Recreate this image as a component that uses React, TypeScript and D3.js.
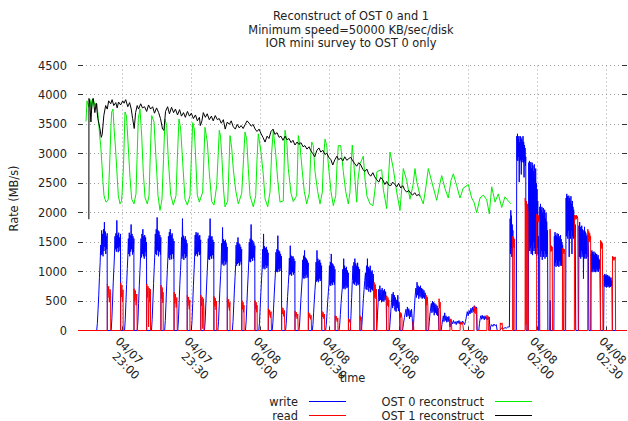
import React from "react";
import * as d3 from "d3";

type Pt = [number, number];

// Time is stored as minutes after 04/07 22:00.
const BASE = new Date(2008, 3, 7, 22, 0, 0);
const at = (m: number) => new Date(BASE.getTime() + m * 60000);

const titleLines = [
  "Reconstruct of OST 0 and 1",
  "Minimum speed=50000 KB/sec/disk",
  "IOR mini survey to OST 0 only",
];
const yTicks = [0, 500, 1000, 1500, 2000, 2500, 3000, 3500, 4000, 4500];
const timeWindow: Pt = [40.59, 278.95];
const yLabel = "Rate (MB/s)";
const xLabel = "time";

const write: Pt[] = [
  [40.6, 0], [48.7, 0], [49.0, 120], [49.3, 350], [49.6, 600], [49.9, 900], [50.2, 1150], [50.45, 1450], [50.65, 1280], [50.85, 1700], [51.05, 1300], [51.25, 1640], [51.45, 1260], [51.65, 1720], [51.85, 1350], [52.05, 1840], [52.25, 1420], [52.45, 1680], [52.65, 1300], [52.85, 1600], [53.05, 1380], [53.25, 1650], [53.3, 0],
  [55.0, 0], [55.3, 200], [55.6, 500], [55.9, 820], [56.2, 1080], [56.45, 1300], [56.65, 1600], [56.85, 1380], [57.05, 1650], [57.25, 1340], [57.45, 1870], [57.65, 1400], [57.85, 1620], [58.05, 1330], [58.25, 1660], [58.45, 1420], [58.65, 1580], [58.85, 1350], [59.05, 1640], [59.1, 0],
  [60.8, 0], [61.1, 180], [61.4, 480], [61.7, 780], [62.0, 1050], [62.25, 1280], [62.45, 1560], [62.65, 1300], [62.85, 1660], [63.05, 1260], [63.25, 1620], [63.45, 1340], [63.65, 1800], [63.85, 1380], [64.05, 1640], [64.25, 1290], [64.45, 1600], [64.65, 1330], [64.85, 1560], [64.9, 0],
  [66.3, 0], [66.6, 160], [66.9, 460], [67.2, 760], [67.5, 1020], [67.75, 1250], [67.95, 1560], [68.15, 1240], [68.35, 1640], [68.55, 1300], [68.75, 1720], [68.95, 1260], [69.15, 1600], [69.35, 1220], [69.55, 1620], [69.75, 1330], [69.95, 1580], [70.15, 1260], [70.35, 1500], [70.4, 0],
  [72.5, 0], [72.8, 190], [73.1, 500], [73.4, 800], [73.7, 1080], [73.95, 1300], [74.15, 1640], [74.35, 1300], [74.55, 1720], [74.75, 1280], [74.95, 1920], [75.15, 1360], [75.35, 1700], [75.55, 1260], [75.75, 1680], [75.95, 1340], [76.15, 1620], [76.35, 1290], [76.55, 1580], [76.6, 0],
  [78.2, 0], [78.5, 170], [78.8, 470], [79.1, 770], [79.4, 1040], [79.65, 1260], [79.85, 1600], [80.05, 1230], [80.25, 1670], [80.45, 1200], [80.65, 1720], [80.85, 1280], [81.05, 1620], [81.25, 1210], [81.45, 1650], [81.65, 1300], [81.85, 1560], [82.05, 1220], [82.25, 1520], [82.3, 0],
  [83.9, 0], [84.2, 180], [84.5, 480], [84.8, 780], [85.1, 1020], [85.35, 1250], [85.55, 1580], [85.75, 1220], [85.95, 1900], [86.15, 1260], [86.35, 1610], [86.55, 1200], [86.75, 1560], [86.95, 1300], [87.15, 1600], [87.35, 1230], [87.55, 1540], [87.75, 1260], [87.95, 1480], [88.0, 0],
  [89.8, 0], [90.1, 170], [90.4, 460], [90.7, 760], [91.0, 1030], [91.25, 1280], [91.45, 1620], [91.65, 1270], [91.85, 1670], [92.05, 1300], [92.25, 1640], [92.45, 1260], [92.65, 1660], [92.85, 1340], [93.05, 1600], [93.25, 1280], [93.45, 1620], [93.65, 1300], [93.85, 1540], [93.9, 0],
  [95.5, 0], [95.8, 160], [96.1, 450], [96.4, 740], [96.7, 1000], [96.95, 1230], [97.15, 1560], [97.35, 1210], [97.55, 1610], [97.75, 1200], [97.95, 1900], [98.15, 1260], [98.35, 1590], [98.55, 1220], [98.75, 1600], [98.95, 1280], [99.15, 1540], [99.35, 1220], [99.55, 1500], [99.6, 0],
  [101.3, 0], [101.6, 150], [101.9, 420], [102.2, 700], [102.5, 930], [102.75, 1130], [102.95, 1480], [103.15, 1120], [103.35, 1750], [103.55, 1150], [103.75, 1550], [103.95, 1100], [104.15, 1520], [104.35, 1180], [104.55, 1540], [104.75, 1120], [104.95, 1480], [105.15, 1160], [105.35, 1420], [105.4, 0],
  [107.6, 0], [107.9, 150], [108.2, 420], [108.5, 690], [108.8, 920], [109.05, 1120], [109.25, 1450], [109.45, 1100], [109.65, 1500], [109.85, 1130], [110.05, 1580], [110.25, 1150], [110.45, 1480], [110.65, 1100], [110.85, 1460], [111.05, 1170], [111.25, 1420], [111.45, 1120], [111.65, 1380], [111.7, 0],
  [113.3, 0], [113.6, 160], [113.9, 440], [114.2, 720], [114.5, 960], [114.75, 1180], [114.95, 1500], [115.15, 1170], [115.35, 1560], [115.55, 1160], [115.75, 1800], [115.95, 1220], [116.15, 1540], [116.35, 1180], [116.55, 1520], [116.75, 1240], [116.95, 1480], [117.15, 1190], [117.35, 1440], [117.4, 0],
  [119.1, 0], [119.4, 140], [119.7, 400], [120.0, 650], [120.3, 880], [120.55, 1060], [120.75, 1380], [120.95, 1050], [121.15, 1640], [121.35, 1080], [121.55, 1430], [121.75, 1040], [121.95, 1400], [122.15, 1110], [122.35, 1420], [122.55, 1060], [122.75, 1370], [122.95, 1100], [123.15, 1320], [123.2, 0],
  [124.9, 0], [125.2, 130], [125.5, 380], [125.8, 620], [126.1, 840], [126.35, 1010], [126.55, 1330], [126.75, 1000], [126.95, 1380], [127.15, 990], [127.35, 1610], [127.55, 1040], [127.75, 1360], [127.95, 1000], [128.15, 1340], [128.35, 1060], [128.55, 1300], [128.75, 1010], [128.95, 1260], [129.0, 0],
  [130.7, 0], [131.0, 120], [131.3, 350], [131.6, 580], [131.9, 780], [132.15, 950], [132.35, 1230], [132.55, 940], [132.75, 1440], [132.95, 960], [133.15, 1270], [133.35, 930], [133.55, 1250], [133.75, 990], [133.95, 1260], [134.15, 950], [134.35, 1220], [134.55, 980], [134.75, 1180], [134.8, 0],
  [136.5, 0], [136.8, 110], [137.1, 330], [137.4, 550], [137.7, 740], [137.95, 900], [138.15, 1200], [138.35, 890], [138.55, 1270], [138.75, 880], [138.95, 1360], [139.15, 930], [139.35, 1240], [139.55, 890], [139.75, 1220], [139.95, 950], [140.15, 1190], [140.35, 900], [140.55, 1150], [140.6, 0],
  [142.3, 0], [142.6, 100], [142.9, 310], [143.2, 520], [143.5, 700], [143.75, 840], [143.95, 1160], [144.15, 830], [144.35, 1360], [144.55, 850], [144.75, 1220], [144.95, 820], [145.15, 1180], [145.35, 880], [145.55, 1200], [145.75, 840], [145.95, 1150], [146.15, 870], [146.35, 1100], [146.4, 0],
  [148.1, 0], [148.4, 100], [148.7, 290], [149.0, 490], [149.3, 660], [149.55, 780], [149.75, 1100], [149.95, 770], [150.15, 1160], [150.35, 760], [150.55, 1300], [150.75, 800], [150.95, 1140], [151.15, 770], [151.35, 1120], [151.55, 820], [151.75, 1090], [151.95, 780], [152.15, 1040], [152.2, 0],
  [153.9, 0], [154.2, 90], [154.5, 270], [154.8, 460], [155.1, 620], [155.35, 720], [155.55, 1040], [155.75, 710], [155.95, 1220], [156.15, 730], [156.35, 1100], [156.55, 700], [156.75, 1060], [156.95, 760], [157.15, 1080], [157.35, 720], [157.55, 1020], [157.75, 740], [157.95, 980], [158.0, 0],
  [158.8, 0], [159.1, 250], [159.4, 560], [159.7, 850], [160.0, 1100], [160.2, 800], [160.4, 1160], [160.6, 780], [160.8, 1220], [161.0, 820], [161.2, 1140], [161.4, 760], [161.6, 1100], [161.8, 800], [162.0, 1150], [162.2, 770], [162.4, 1080], [162.6, 790], [162.85, 1040], [163.0, 0],
  [163.6, 0], [163.9, 130], [164.2, 330], [164.5, 540], [164.8, 700], [165.1, 850], [165.4, 980], [165.65, 700], [165.85, 1100], [166.05, 690], [166.25, 1220], [166.45, 740], [166.65, 1080], [166.85, 660], [167.05, 1050], [167.25, 720], [167.45, 1100], [167.65, 650], [167.85, 1000], [168.05, 700], [168.3, 1020], [168.5, 680], [168.75, 960], [169.0, 720], [169.1, 0],
  [170.3, 0], [170.6, 250], [170.9, 480], [171.15, 700], [171.4, 500], [171.65, 760], [171.9, 520], [172.15, 690], [172.4, 480], [172.65, 720], [172.9, 500], [173.15, 680], [173.4, 490], [173.65, 700], [173.9, 520], [174.15, 660], [174.4, 500], [174.6, 0],
  [175.8, 0], [176.1, 150], [176.4, 330], [176.7, 480], [176.95, 620], [177.2, 380], [177.45, 650], [177.7, 420], [177.95, 600], [178.2, 340], [178.45, 560], [178.7, 320], [178.95, 520], [179.2, 380], [179.45, 600], [179.7, 330], [179.95, 480], [180.2, 310], [180.4, 0],
  [181.5, 0], [181.9, 120], [182.3, 220], [182.7, 300], [183.0, 360], [183.3, 230], [183.6, 400], [183.9, 250], [184.2, 370], [184.5, 200], [184.8, 340], [185.1, 230], [185.4, 360], [185.7, 210], [186.0, 0],
  [186.1, 0], [186.4, 200], [186.7, 420], [187.0, 600], [187.3, 720], [187.55, 560], [187.8, 820], [188.05, 600], [188.3, 760], [188.55, 540], [188.8, 740], [189.05, 580], [189.3, 760], [189.55, 560], [189.8, 720], [190.05, 540], [190.3, 700], [190.55, 560], [190.8, 680], [191.05, 540], [191.3, 640], [191.55, 560], [191.7, 0],
  [192.8, 0], [193.1, 150], [193.4, 280], [193.7, 380], [194.0, 460], [194.25, 300], [194.5, 500], [194.75, 320], [195.0, 480], [195.25, 260], [195.5, 460], [195.75, 300], [196.0, 440], [196.25, 270], [196.5, 420], [196.75, 250], [197.0, 380], [197.3, 0],
  [198.3, 0], [198.6, 100], [198.9, 180], [199.2, 250], [199.5, 150], [199.8, 300], [200.1, 170], [200.4, 250], [200.7, 140], [201.0, 230], [201.3, 150], [201.6, 240], [201.9, 160], [202.1, 60],
  [202.4, 120], [202.8, 160], [203.2, 110], [203.6, 170], [204.0, 120], [204.4, 150], [204.8, 100], [205.2, 160], [205.6, 120], [206.0, 170], [206.4, 110], [206.8, 150], [207.2, 120], [207.6, 160], [208.0, 130], [208.4, 100],
  [208.8, 150], [209.2, 230], [209.6, 320], [210.0, 250], [210.4, 340], [210.8, 280], [211.2, 380], [211.6, 300], [212.0, 400], [212.4, 320], [212.8, 420], [213.2, 350], [213.6, 400], [213.8, 0],
  [214.6, 0], [214.9, 120], [215.2, 200], [215.5, 250], [215.8, 190], [216.1, 260], [216.4, 200], [216.7, 240], [217.0, 180], [217.3, 250], [217.6, 200], [217.9, 230], [218.2, 180], [218.5, 220], [218.8, 190], [219.1, 230], [219.5, 0],
  [219.7, 60], [220.2, 100], [220.7, 70], [221.2, 110], [221.7, 80], [222.2, 100], [222.6, 0], [223.8, 0], [224.2, 30], [224.8, 50], [225.4, 30], [226.0, 50], [226.6, 40], [227.2, 60],
  [227.9, 60], [228.2, 1900], [228.35, 1300], [228.5, 2040], [228.65, 1400], [228.8, 1950], [228.95, 1250], [229.1, 1800], [229.25, 1300], [229.4, 1700], [229.55, 0],
  [230.9, 0], [231.1, 3300], [231.25, 2900], [231.4, 3340], [231.55, 2880], [231.7, 3250], [231.85, 2950], [232.0, 3300], [232.15, 2520], [232.3, 3200], [232.45, 2870], [232.6, 3300], [232.75, 2900], [232.9, 3280], [233.05, 2650], [233.2, 3250], [233.35, 2860], [233.5, 3220], [233.65, 2900], [233.8, 3300], [233.95, 2850], [234.1, 3200], [234.25, 2600], [234.4, 3150], [234.55, 2870], [234.7, 3100], [234.85, 2800], [235.0, 2950], [235.1, 0],
  [236.1, 0], [236.3, 2850], [236.45, 1500], [236.6, 2880], [236.75, 1350], [236.9, 2800], [237.05, 1400], [237.2, 2860], [237.35, 1300], [237.5, 2750], [237.65, 1450], [237.8, 2850], [237.95, 1280], [238.1, 2800], [238.25, 1500], [238.4, 2700], [238.55, 1350], [238.7, 2820], [238.85, 1400], [239.0, 2600], [239.15, 1300], [239.3, 2750], [239.45, 1500], [239.6, 2500], [239.75, 1270], [239.9, 2400], [240.05, 1400], [240.2, 2200], [240.35, 1300], [240.55, 1600], [240.6, 0],
  [240.9, 0], [241.1, 2100], [241.25, 1300], [241.4, 2150], [241.55, 1250], [241.7, 2050], [241.85, 1350], [242.0, 2100], [242.15, 1200], [242.3, 2000], [242.45, 1300], [242.6, 2080], [242.75, 1250], [242.9, 1950], [243.05, 1350], [243.2, 2050], [243.35, 1220], [243.5, 1900], [243.65, 1300], [243.8, 2000], [243.95, 1250], [244.1, 1850], [244.25, 1300], [244.45, 1700], [244.6, 0],
  [245.4, 0], [245.6, 510], [245.75, 0],
  [247.2, 0], [247.4, 1600], [247.55, 1100], [247.7, 1670], [247.85, 1150], [248.0, 1620], [248.15, 1080], [248.3, 1600], [248.45, 1200], [248.6, 1650], [248.75, 1100], [248.9, 1580], [249.05, 1150], [249.2, 1640], [249.35, 1080], [249.5, 1600], [249.65, 1180], [249.8, 1560], [249.95, 1100], [250.1, 1620], [250.25, 1150], [250.4, 1550], [250.55, 1100], [250.7, 1500], [250.85, 1150], [251.0, 1450], [251.15, 1200], [251.3, 0],
  [252.3, 0], [252.5, 2250], [252.65, 1600], [252.8, 2320], [252.95, 1650], [253.1, 2280], [253.25, 1560], [253.4, 2200], [253.55, 1700], [253.7, 2290], [253.85, 1250], [254.0, 2250], [254.15, 1600], [254.3, 2200], [254.45, 1560], [254.6, 2280], [254.75, 1700], [254.9, 2150], [255.05, 1300], [255.2, 2200], [255.35, 1600], [255.5, 2100], [255.65, 1560], [255.8, 2050], [255.95, 1650], [256.1, 1950], [256.25, 1580], [256.45, 1800], [256.7, 0],
  [257.9, 0], [258.1, 1780], [258.25, 1250], [258.4, 1840], [258.55, 1300], [258.7, 1760], [258.85, 1220], [259.0, 1700], [259.15, 1350], [259.3, 1780], [259.45, 1250], [259.6, 1720], [259.75, 1300], [259.9, 1650], [260.05, 880], [260.2, 1700], [260.35, 1250], [260.5, 1760], [260.65, 1220], [260.8, 1680], [260.95, 1300], [261.1, 1650], [261.25, 1220], [261.4, 1600], [261.55, 1300], [261.7, 1620], [261.85, 1250], [262.0, 1550], [262.2, 1400], [262.4, 0],
  [263.2, 0], [263.4, 1300], [263.55, 1000], [263.7, 1360], [263.85, 1020], [264.0, 1330], [264.15, 990], [264.3, 1300], [264.45, 1050], [264.6, 1340], [264.75, 1000], [264.9, 1280], [265.05, 1020], [265.2, 1320], [265.35, 990], [265.5, 1290], [265.65, 1050], [265.8, 1300], [265.95, 1000], [266.1, 1250], [266.25, 1030], [266.4, 1280], [266.55, 1000], [266.7, 1220], [266.85, 1050], [267.0, 1200], [267.2, 1000], [267.5, 0],
  [268.8, 0], [269.0, 940], [269.15, 760], [269.3, 960], [269.45, 740], [269.6, 930], [269.75, 780], [269.9, 950], [270.05, 730], [270.2, 920], [270.35, 770], [270.5, 940], [270.65, 740], [270.8, 900], [270.95, 760], [271.1, 930], [271.25, 730], [271.4, 910], [271.55, 780], [271.7, 880], [271.85, 740], [272.0, 900], [272.15, 760], [272.4, 850], [272.6, 0],
  [278.9, 0],
];

const read: Pt[] = [
  [40.6, 0],
  [53.3, 0], [53.35, 790], [53.6, 560], [53.9, 750], [54.2, 480], [54.5, 700], [54.75, 600], [54.8, 0],
  [59.1, 0], [59.15, 810], [59.4, 570], [59.65, 770], [59.9, 490], [60.15, 690], [60.2, 0],
  [64.9, 0], [64.95, 710], [65.2, 500], [65.5, 680], [65.8, 430], [66.1, 620], [66.3, 0],
  [70.4, 0], [70.45, 790], [70.7, 560], [71.0, 750], [71.25, 60], [71.5, 720], [71.8, 480], [72.05, 700], [72.1, 0],
  [76.6, 0], [76.65, 770], [76.9, 540], [77.15, 730], [77.4, 470], [77.55, 650], [77.6, 0],
  [82.3, 0], [82.35, 650], [82.6, 460], [82.9, 620], [83.2, 390], [83.5, 560], [83.7, 0],
  [88.0, 0], [88.05, 600], [88.3, 420], [88.6, 570], [88.9, 360], [89.15, 520], [89.2, 0],
  [93.9, 0], [93.95, 600], [94.2, 420], [94.5, 570], [94.8, 30], [95.0, 540], [95.25, 380], [95.3, 0],
  [99.6, 0], [99.65, 580], [99.9, 410], [100.2, 550], [100.5, 350], [100.75, 500], [100.8, 0],
  [105.4, 0], [105.45, 560], [105.7, 390], [106.0, 530], [106.3, 340], [106.55, 480], [106.6, 0],
  [111.7, 0], [111.75, 510], [112.0, 360], [112.25, 480], [112.5, 310], [112.65, 430], [112.7, 0],
  [117.4, 0], [117.45, 510], [117.7, 360], [117.95, 480], [118.2, 310], [118.35, 430], [118.4, 0],
  [123.2, 0], [123.25, 370], [123.5, 260], [123.8, 350], [124.1, 220], [124.4, 320], [124.6, 0],
  [129.0, 0], [129.05, 400], [129.3, 280], [129.6, 380], [129.9, 240], [130.2, 340], [130.4, 0],
  [134.8, 0], [134.85, 330], [135.1, 230], [135.4, 310], [135.7, 200], [136.0, 280], [136.2, 0],
  [140.6, 0], [140.65, 310], [140.9, 220], [141.2, 290], [141.5, 190], [141.8, 260], [142.0, 0],
  [146.4, 0], [146.45, 330], [146.7, 230], [147.0, 310], [147.3, 200], [147.6, 280], [147.7, 0],
  [152.2, 0], [152.25, 250], [152.5, 180], [152.8, 240], [153.1, 150], [153.4, 210], [153.5, 0],
  [158.0, 0], [158.05, 200], [158.3, 140], [158.6, 190], [158.9, 120], [159.0, 0],
  [163.0, 0], [163.05, 250], [163.3, 170], [163.55, 230], [163.8, 0],
  [169.1, 0], [169.15, 820], [169.4, 560], [169.65, 780], [169.9, 540], [170.15, 700], [170.2, 0],
  [174.6, 0], [174.65, 590], [174.9, 420], [175.15, 560], [175.4, 400], [175.55, 520], [175.6, 0],
  [180.4, 0], [180.45, 310], [180.7, 220], [180.95, 290], [181.25, 200], [181.3, 0],
  [186.0, 0], [186.05, 150], [186.25, 110], [186.4, 0],
  [191.7, 0], [191.75, 600], [192.0, 430], [192.25, 570], [192.5, 400], [192.6, 0],
  [197.3, 0], [197.35, 540], [197.6, 380], [197.85, 480], [198.1, 0],
  [202.1, 0], [202.15, 200], [202.4, 150], [202.65, 190], [202.9, 0],
  [206.5, 0], [206.55, 140], [206.9, 100], [207.3, 140], [207.7, 90], [208.0, 0],
  [212.5, 0], [212.55, 420], [212.8, 300], [213.1, 400], [213.4, 280], [213.7, 380], [213.9, 0],
  [218.1, 0], [218.15, 260], [218.4, 180], [218.65, 240], [218.8, 0],
  [223.9, 0], [223.95, 130], [224.3, 100], [224.7, 130], [225.0, 0],
  [229.3, 0], [229.35, 1600], [229.55, 1420], [229.75, 1580], [229.95, 1400], [230.15, 1550], [230.3, 0],
  [234.7, 0], [234.75, 2250], [234.95, 1980], [235.1, 100], [235.25, 2200], [235.45, 1950], [235.6, 0], [235.75, 2150], [235.95, 2000], [236.1, 0],
  [239.7, 0], [239.75, 1980], [239.95, 1850], [240.15, 1960], [240.35, 1840], [240.55, 1950], [240.75, 1860], [240.95, 1900], [241.1, 0],
  [245.5, 0], [245.55, 1720], [245.7, 1450], [245.9, 1340], [246.1, 1440], [246.3, 1350], [246.5, 1420], [246.6, 0],
  [250.9, 0], [250.95, 1400], [251.15, 1320], [251.35, 1390], [251.55, 1300], [251.75, 1380], [251.95, 1330], [252.1, 0],
  [256.1, 0], [256.15, 1960], [256.35, 1880], [256.55, 1950], [256.75, 1900], [256.95, 1960], [257.15, 1890], [257.35, 1940], [257.55, 1900], [257.8, 0],
  [261.9, 0], [261.95, 1720], [262.15, 1520], [262.35, 1680], [262.55, 1500], [262.75, 1650], [262.95, 1540], [263.15, 1600], [263.3, 0],
  [267.4, 0], [267.45, 1530], [267.65, 1400], [267.85, 1510], [268.05, 1390], [268.25, 1480], [268.5, 0],
  [272.6, 0], [272.65, 1260], [272.85, 1200], [273.05, 1250], [273.25, 1190], [273.45, 1240], [273.65, 1210], [273.85, 1250], [274.0, 0],
  [278.95, 0],
];

const ost0: Pt[] = [
  [44.07, 3550], [44.5, 3900], [45.15, 3800], [45.8, 3920], [46.45, 3750], [47.1, 3940], [47.97, 3820], [48.84, 3850], [49.41, 3600], [50.14, 3250], [50.45, 3140], [51.01, 2800], [51.32, 2580], [51.88, 2290], [52.32, 2230], [52.75, 2180], [53.4, 2200], [53.75, 2230], [54.05, 2550], [54.49, 2990], [54.92, 3500], [55.22, 3710], [55.79, 3760], [56.22, 3450], [56.87, 3100], [57.4, 2750], [58.09, 2290], [58.83, 2150], [59.48, 2200], [59.7, 2300],
  [60.35, 2800], [61.0, 3710], [61.65, 3640], [62.3, 3200], [63.17, 2600], [63.91, 2230], [64.91, 2150], [65.77, 2320], [66.21, 2900], [66.77, 3600], [67.51, 3760], [68.25, 3300], [68.94, 2680], [69.68, 2260], [70.68, 2150], [71.42, 2290], [72.07, 3100], [72.59, 3650], [73.59, 3540], [74.46, 2920], [75.33, 2290], [76.19, 2040], [77.06, 2230], [77.71, 2900], [78.37, 3590], [79.1, 3480], [79.8, 2900], [80.84, 2300], [81.97, 2130], [83.14, 2290], [83.79, 3000], [84.44, 3590], [85.18, 3420], [86.05, 2850], [87.05, 2230], [88.05, 2130], [89.22, 2290], [89.87, 3000], [90.39, 3530], [91.09, 3420], [91.82, 2810], [92.39, 2300], [93.26, 2180], [94.73, 2350], [95.3, 3000], [95.73, 3450], [96.73, 3200], [97.6, 2680], [98.64, 2190], [99.64, 2130],
  [100.81, 2460], [101.59, 3100], [101.94, 3400], [102.46, 3300], [103.11, 2900], [103.76, 2400], [104.42, 2100], [105.59, 2200], [106.15, 2800], [106.59, 3310], [107.32, 3100], [108.02, 2740], [109.06, 2380], [110.19, 2150], [111.67, 2330], [112.45, 2900], [113.1, 3370], [113.84, 3250], [114.53, 2750], [115.27, 2290], [116.7, 2100], [117.74, 2290], [118.31, 2900], [118.87, 3340], [120.04, 3030], [121.04, 2650], [121.78, 2240], [122.95, 2100], [123.95, 2350], [124.69, 3030], [125.38, 3400], [126.43, 3000], [127.29, 2560], [128.29, 2180], [129.73, 2200], [130.03, 2700], [130.46, 3400], [131.2, 3230], [131.9, 2750], [133.07, 2330], [134.07, 2190], [135.54, 2290], [135.98, 2900], [136.24, 3310], [136.98, 3140], [137.98, 2700], [138.84, 2360], [139.89, 2150],
  [141.01, 2330], [141.54, 2900], [142.06, 3200], [142.75, 3140], [143.49, 2700], [144.66, 2360], [145.66, 2150], [146.66, 2350], [147.18, 2900], [147.83, 3250], [148.57, 3140], [149.57, 2700], [150.44, 2360], [151.44, 2120], [152.48, 2290], [153.04, 2800], [153.61, 3140], [154.65, 3140], [155.78, 2700], [156.82, 2360], [157.95, 2150], [158.68, 2350], [159.12, 2800], [159.68, 3150], [160.21, 2900], [161.59, 2180], [162.16, 2560], [163.03, 2830], [164.46, 2960], [165.2, 2570], [166.07, 2280], [167.37, 2150], [168.67, 2120], [169.54, 2400], [170.41, 2700], [172.45, 2730], [173.14, 2400], [174.62, 2070], [175.18, 2450], [176.05, 3030], [177.48, 2750], [178.96, 2350],
  [180.39, 2040], [181.13, 2400], [181.83, 2750], [183.3, 2550], [184.74, 2230], [186.04, 2470], [186.91, 2750], [187.64, 2530], [189.08, 2290], [190.51, 2150], [191.68, 2450], [192.68, 2750], [194.16, 2530], [196.33, 2210], [197.76, 2500], [198.5, 2630], [199.93, 2410], [201.36, 2250], [202.54, 2550], [203.54, 2660], [205.01, 2460], [206.44, 2250], [207.88, 2420], [209.05, 2450], [210.05, 2480], [211.52, 2250], [212.52, 2180], [213.69, 2000], [215.13, 2250], [216.56, 2300], [218.04, 2220], [219.17, 1980], [220.21, 2440], [220.9, 2320], [221.64, 2180], [223.07, 2320], [224.55, 2090], [225.98, 2270], [227.41, 2200], [228.58, 2150],
];

const ost1: Pt[] = [
  [45.3, 1890], [45.35, 3940], [45.7, 3880], [46.2, 3540], [46.7, 3900], [47.2, 3940], [47.9, 3700], [48.5, 3860], [49.2, 3600], [50.1, 3430], [50.7, 3280], [51.1, 3330], [51.8, 3650], [52.6, 3820], [53.3, 3760], [53.9, 3900], [54.8, 3850], [55.4, 3920], [56.1, 3820], [57.0, 3870], [57.6, 3780], [58.2, 3880], [59.1, 3830],
  [60.0, 3900], [60.6, 3860], [61.3, 3920], [62.2, 3800], [63.0, 3870], [63.7, 3760], [64.3, 3600], [65.0, 3430], [65.6, 3700], [66.3, 3820], [66.9, 3760], [67.8, 3850], [68.6, 3780], [69.5, 3800], [70.4, 3720], [71.2, 3830], [72.1, 3760], [73.0, 3800], [73.8, 3690], [74.7, 3780], [75.6, 3700], [76.4, 3600], [77.3, 3420], [77.9, 3400], [78.6, 3720], [79.5, 3800],
  [80.3, 3680], [81.2, 3790], [82.1, 3700], [82.9, 3760], [83.8, 3660], [84.7, 3750], [85.5, 3640], [86.4, 3700], [87.2, 3620], [88.1, 3720], [89.0, 3640], [89.8, 3690], [90.7, 3600], [91.6, 3660], [92.4, 3560], [93.3, 3620], [93.7, 3480], [94.4, 3560], [95.0, 3700], [95.9, 3620], [96.7, 3680], [97.6, 3580], [98.5, 3640], [99.3, 3560],
  [100.2, 3650], [101.1, 3580], [101.9, 3600], [102.8, 3520], [103.7, 3580], [104.5, 3420], [105.4, 3540], [106.3, 3500], [107.1, 3560], [108.0, 3460], [108.9, 3420], [109.7, 3500], [110.6, 3440], [111.4, 3480], [112.3, 3430], [113.2, 3500], [114.0, 3560], [114.9, 3520], [115.8, 3470], [116.6, 3500], [117.5, 3420], [118.3, 3380], [119.2, 3420],
  [120.1, 3340], [120.9, 3280], [121.8, 3200], [122.7, 3300], [123.5, 3260], [124.4, 3380], [125.3, 3420], [126.1, 3330], [127.0, 3360], [127.9, 3280], [128.7, 3300], [129.6, 3230], [130.5, 3300], [131.3, 3240], [132.2, 3260], [133.1, 3190], [133.9, 3230], [134.8, 3150], [135.7, 3200], [136.5, 3160], [137.4, 3190], [138.3, 3120], [139.1, 3140],
  [140.0, 3080], [140.9, 3120], [141.7, 3050], [142.6, 3000], [143.4, 2950], [144.3, 3060], [145.2, 3100], [146.0, 3030], [146.9, 3060], [147.8, 2990], [148.6, 3010], [149.5, 2940], [150.4, 2900], [151.2, 2810], [152.1, 2900], [153.0, 2960], [153.8, 2900], [154.7, 2930], [155.6, 2880], [156.4, 2950], [157.3, 2890], [158.2, 2920], [159.0, 2940], [159.9, 2880],
  [160.8, 2830], [161.6, 2790], [162.5, 2850], [163.4, 2810], [164.2, 2740], [165.1, 2700], [166.0, 2740], [166.8, 2660], [167.7, 2620], [168.6, 2680], [169.4, 2610], [170.3, 2560], [171.2, 2520], [172.0, 2600], [172.9, 2560], [173.8, 2480], [174.6, 2530], [175.5, 2470], [176.4, 2460], [177.2, 2520], [178.1, 2480], [179.0, 2440], [179.8, 2500],
  [180.7, 2420], [181.6, 2460], [182.4, 2390], [183.3, 2350], [184.2, 2380], [185.0, 2330], [185.9, 2300], [186.8, 2340], [187.6, 2290], [188.5, 2310], [188.9, 2280],
];

const series = [
  { name: "write", data: write, color: "#0000ff" },
  { name: "OST 0 reconstruct", data: ost0, color: "#00ee00" },
  { name: "read", data: read, color: "#ff0000" },
  { name: "OST 1 reconstruct", data: ost1, color: "#000000" },
];

const legendRows = [
  { left: "write", right: "OST 0 reconstruct" },
  { left: "read", right: "OST 1 reconstruct" },
];
const colorOf = (name: string) => series.find((s) => s.name === name)!.color;

const FONT = "'DejaVu Sans', sans-serif";
const TEXT = "#222";

export default function App() {
  const left = 78, right = 627, top = 65.5, bottom = 330.5;
  const x = d3.scaleTime().domain([at(timeWindow[0]), at(timeWindow[1])]).range([left, right]);
  const y = d3.scaleLinear().domain([0, 4500]).range([bottom, top]);
  const line = d3
    .line<Pt>()
    .x((d) => x(at(d[0])))
    .y((d) => y(d[1]));
  const xTicks = x.ticks(d3.timeMinute.every(30)!);
  const fmtDay = d3.timeFormat("%m/%d");
  const fmtTime = d3.timeFormat("%H:%M");
  const snap = (v: number) => Math.round(v - 0.5) + 0.5;

  return (
    <svg
      width={628}
      height={421}
      style={{ position: "absolute", left: 0, top: 0, background: "#fff" }}
      fontFamily={FONT}
      fontSize={11.4}
    >
      <rect width={628} height={421} fill="#fff" />
      {/* grid */}
      <g stroke="#a0a0a0" strokeWidth={1} strokeDasharray="1,3" fill="none">
        {yTicks.map((v) => (
          <line key={"gy" + v} x1={left + 4} x2={right - 4} y1={snap(y(v))} y2={snap(y(v))} />
        ))}
        {xTicks.map((t) => (
          <line key={"gx" + +t} x1={snap(x(t))} x2={snap(x(t))} y1={top} y2={bottom - 4} />
        ))}
      </g>
      {/* tick marks */}
      <g stroke="#333" strokeWidth={1}>
        {yTicks.map((v) => (
          <g key={"ty" + v}>
            <line x1={left} x2={left + 5} y1={snap(y(v))} y2={snap(y(v))} />
            <line x1={right - 5} x2={right} y1={snap(y(v))} y2={snap(y(v))} />
          </g>
        ))}
        {xTicks.map((t) => (
          <line key={"tx" + +t} x1={snap(x(t))} x2={snap(x(t))} y1={bottom} y2={bottom - 4} />
        ))}
      </g>
      {/* data */}
      <g fill="none" strokeWidth={1} strokeLinejoin="round">
        {series.map((s) => (
          <path key={s.name} d={line(s.data) || ""} stroke={s.color} />
        ))}
      </g>
      {/* y tick labels */}
      <g fill={TEXT} textAnchor="end">
        {yTicks.map((v) => (
          <text key={"ly" + v} x={67} y={y(v) + 4}>
            {v}
          </text>
        ))}
      </g>
      {/* x tick labels */}
      <g fill={TEXT}>
        {xTicks.map((t) => (
          <text key={"lx" + +t} transform={`translate(${x(t) - 8},342) rotate(45)`}>
            <tspan x={0} dy={0}>{fmtDay(t)}</tspan>
            <tspan x={8.3} dy={12.9}>{fmtTime(t)}</tspan>
          </text>
        ))}
      </g>
      {/* axis titles */}
      <text x={352.5} y={382} textAnchor="middle" fill={TEXT}>
        {xLabel}
      </text>
      <text transform="translate(18,198.5) rotate(-90)" textAnchor="middle" fill={TEXT}>
        {yLabel}
      </text>
      {/* title */}
      <g fill={TEXT} textAnchor="middle">
        {titleLines.map((s, i) => (
          <text key={s} x={351} y={20 + i * 13.5}>
            {s}
          </text>
        ))}
      </g>
      {/* legend */}
      <g fill={TEXT}>
        {legendRows.map((r, i) => {
          const ly = 401.5 + i * 14;
          return (
            <g key={r.left}>
              <text x={298} y={ly + 4} textAnchor="end">{r.left}</text>
              <line x1={309} x2={346} y1={ly} y2={ly} stroke={colorOf(r.left)} />
              <text x={484} y={ly + 4} textAnchor="end">{r.right}</text>
              <line x1={495} x2={532} y1={ly} y2={ly} stroke={colorOf(r.right)} />
            </g>
          );
        })}
      </g>
    </svg>
  );
}
